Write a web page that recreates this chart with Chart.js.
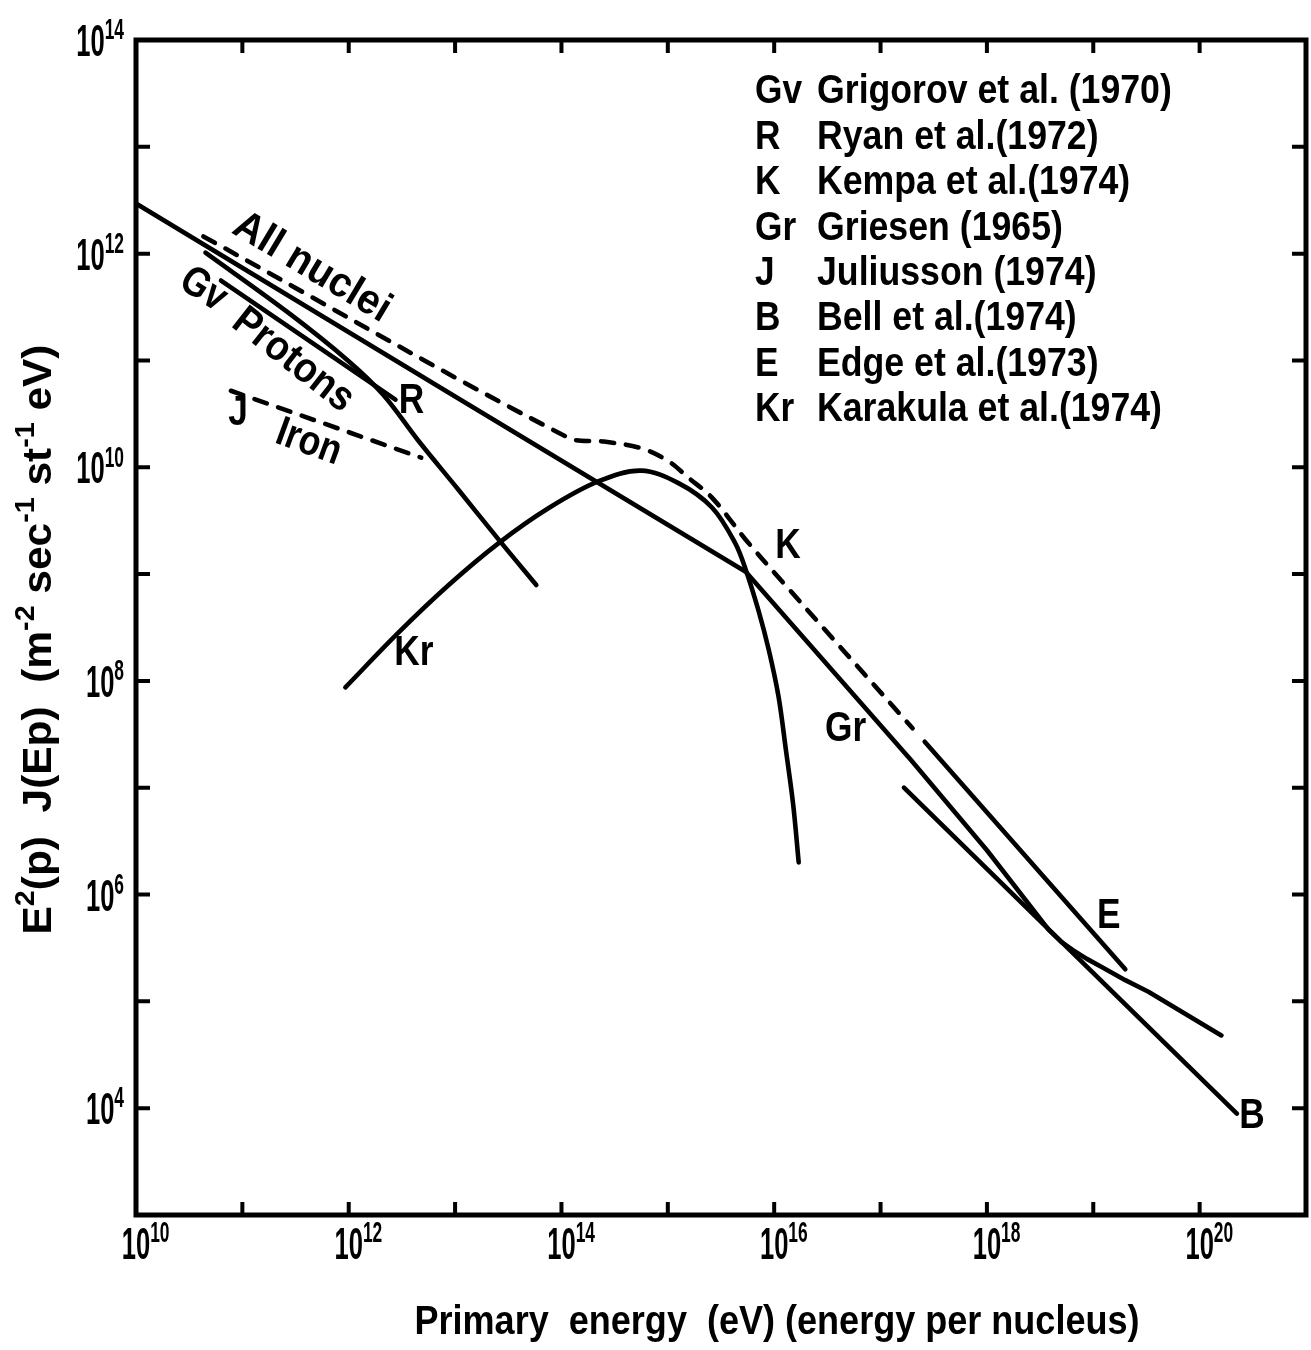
<!DOCTYPE html>
<html>
<head>
<meta charset="utf-8">
<title>Primary cosmic ray spectrum</title>
<script src="https://cdn.jsdelivr.net/npm/chart.js@4.4.1/dist/chart.umd.min.js"></script>
<style>
  html, body { margin: 0; padding: 0; background: #fff; }
  #wrap { width: 1311px; height: 1350px; position: relative; }
</style>
</head>
<body>
<div id="wrap"><canvas id="spectrum"></canvas></div>
<script>
// energy in eV, flux as E^2 J(E) in m^-2 sec^-1 st^-1 eV
const griesenE    = [1e10, 1e13, 5.4e15, 1.95e17, 1e18, 3.8e18, 5.0e18, 6.5e18, 8.7e18, 1.2e19, 2.0e19, 3.3e19, 1.6e20];
const griesenFlux = [2.95e12, 4.6e10, 1.05e9, 1.8e7, 2.6e6, 4.7e5, 3.6e5, 3.0e5, 2.5e5, 2.1e5, 1.58e5, 1.23e5, 4.8e4];

const bellE    = [1.66e17, 2.24e20];
const bellFlux = [1.0e7, 8.9e3];

const edgeE    = [2.6e17, 2.0e19];
const edgeFlux = [2.7e7, 2.0e5];

const allNucleiE    = [4.3e10, 1.15e14, 2.5e14, 5.6e14, 1.0e15, 1.58e15, 2.6e15, 5.4e15, 1.1e16, 2.0e17];
const allNucleiFlux = [1.45e12, 1.9e10, 1.74e10, 1.51e10, 1.15e10, 7.9e9, 5.2e9, 2.1e9, 9.3e8, 3.6e7];

const protonsE    = [4.5e10, 2.7e11, 9.8e11, 2.1e12, 4.5e12, 1.07e13, 2.57e13, 5.8e13];
const protonsFlux = [1.02e12, 2.8e11, 1.0e11, 4.8e10, 1.78e10, 6.2e9, 2.1e9, 7.9e8];

const ryanE    = [6.3e10, 2.75e12];
const ryanFlux = [5.6e11, 4.3e10];

const ironE    = [7.8e10, 4.8e12];
const ironFlux = [5.2e10, 1.23e10];

const karakulaE    = [9.3e11, 2.9e12, 8.7e12, 2.57e13, 7.6e13, 2.24e14, 5.6e14, 1.26e15, 2.6e15, 4.3e15, 5.4e15,
                      7.1e15, 8.9e15, 1.1e16, 1.29e16, 1.51e16, 1.7e16];
const karakulaFlux = [8.7e7, 2.8e8, 7.9e8, 1.95e9, 4.15e9, 7.4e9, 9.3e9, 7.1e9, 4.2e9, 1.95e9, 1.1e9,
                      4.6e8, 1.95e8, 7.1e7, 2.24e7, 6.9e6, 2.0e6];

// decades carrying a tick mark, and the ones that get a label
const xDecades = [11, 12, 13, 14, 15, 16, 17, 18, 19, 20];
const yDecades = [4, 5, 6, 7, 8, 9, 10, 11, 12, 13];
const xLabelExps = [10, 12, 14, 16, 18, 20];
const yLabelExps = [4, 6, 8, 10, 12, 14];

// key in the upper right corner
const keyCodes = ['Gv', 'R', 'K', 'Gr', 'J', 'B', 'E', 'Kr'];
const keyNames = ['Grigorov et al. (1970)', 'Ryan et al.(1972)', 'Kempa et al.(1974)', 'Griesen (1965)',
                  'Juliusson (1974)', 'Bell et al.(1974)', 'Edge et al.(1973)', 'Karakula et al.(1974)'];

// curve labels, anchored in data coordinates
const curveNotes = [
  { text: 'All nuclei', e: 4.5e11, f: 7.4e11, rot: 31, fit: 176 },
  { text: 'Gv',         e: 4.3e10, f: 4.6e11, rot: 33 },
  { text: 'Protons',    e: 3.0e11, f: 1.0e11, rot: 38, fit: 142 },
  { text: 'R',          e: 3.9e12, f: 4.1e10, rot: 0 },
  { text: 'J',          e: 9.1e10, f: 3.2e10, rot: 0 },
  { text: 'Iron',       e: 4.2e11, f: 1.7e10, rot: 20 },
  { text: 'Kr',         e: 4.1e12, f: 1.8e8,  rot: 0 },
  { text: 'K',          e: 1.35e16, f: 1.8e9, rot: 0 },
  { text: 'Gr',         e: 4.7e16, f: 3.5e7,  rot: 0 },
  { text: 'E',          e: 1.4e19, f: 6.3e5,  rot: 0 },
  { text: 'B',          e: 3.1e20, f: 8.3e3,  rot: 0 }
];

const FONT = '"Liberation Sans", Arial, sans-serif';
const INK = '#000';

function pts(es, fs) {
  return es.map((e, i) => ({ x: e, y: fs[i] }));
}

function curve(es, fs, dashed, smooth) {
  return {
    data: pts(es, fs),
    borderColor: INK,
    borderWidth: 4.6,
    borderDash: dashed ? [13, 12] : [],
    borderCapStyle: 'round',
    borderJoinStyle: 'round',
    pointRadius: 0,
    fill: false,
    tension: smooth ? 0.35 : 0
  };
}

function setFont(ctx, size) {
  ctx.font = 'bold ' + size + 'px ' + FONT;
}

// parts: plain strings are normal text, one-element arrays are superscripts
function layoutRich(ctx, parts, st) {
  let w = 0;
  const items = parts.map(p => {
    const sup = Array.isArray(p);
    const txt = sup ? p[0] : p;
    setFont(ctx, sup ? st.sup : st.size);
    const wd = ctx.measureText(txt).width;
    const it = { txt: txt, sup: sup, x: w };
    w += wd;
    return it;
  });
  return { items: items, w: w };
}

function drawRich(ctx, parts, x, y, st) {
  const lay = layoutRich(ctx, parts, st);
  const sx = st.fit ? st.fit / lay.w : (st.sx || 1);
  ctx.save();
  ctx.translate(x, y);
  if (st.rot) ctx.rotate(st.rot * Math.PI / 180);
  ctx.scale(sx, 1);
  const x0 = st.align === 'left' ? 0 : st.align === 'right' ? -lay.w : -lay.w / 2;
  ctx.textAlign = 'left';
  ctx.textBaseline = 'middle';
  ctx.fillStyle = INK;
  lay.items.forEach(it => {
    setFont(ctx, it.sup ? st.sup : st.size);
    ctx.fillText(it.txt, x0 + it.x, it.sup ? -st.rise : 0);
  });
  ctx.restore();
  return lay.w * sx;
}

const tickStyle = { size: 44, sup: 30, rise: 13, sx: 0.58 };

const paperFrame = {
  id: 'paperFrame',
  afterDraw(chart) {
    const ctx = chart.ctx;
    const a = chart.chartArea;
    const xs = chart.scales.x;
    const ys = chart.scales.y;

    // inward tick marks on all four sides
    ctx.save();
    ctx.strokeStyle = INK;
    ctx.lineWidth = 4;
    ctx.lineCap = 'butt';
    ctx.beginPath();
    xDecades.forEach(d => {
      const px = xs.getPixelForValue(Math.pow(10, d));
      ctx.moveTo(px, a.bottom); ctx.lineTo(px, a.bottom - 13);
      ctx.moveTo(px, a.top);    ctx.lineTo(px, a.top + 13);
    });
    yDecades.forEach(d => {
      const py = ys.getPixelForValue(Math.pow(10, d));
      ctx.moveTo(a.left, py);  ctx.lineTo(a.left + 14, py);
      ctx.moveTo(a.right, py); ctx.lineTo(a.right - 14, py);
    });
    ctx.stroke();

    // frame
    ctx.lineWidth = 5;
    ctx.lineJoin = 'miter';
    ctx.strokeRect(a.left, a.top, a.right - a.left, a.bottom - a.top);
    ctx.restore();

    // tick labels 10^n
    setFont(ctx, tickStyle.size);
    const baseW = ctx.measureText('10').width * tickStyle.sx;
    xLabelExps.forEach(d => {
      const px = xs.getPixelForValue(Math.pow(10, d));
      drawRich(ctx, ['10', [String(d)]], px - baseW / 2, a.bottom + 32, Object.assign({ align: 'left' }, tickStyle));
    });
    yLabelExps.forEach(d => {
      const py = ys.getPixelForValue(Math.pow(10, d));
      drawRich(ctx, ['10', [String(d)]], a.left - 12, py + 4, Object.assign({ align: 'right' }, tickStyle));
    });

    // axis titles
    drawRich(ctx, ['Primary  energy  (eV) (energy per nucleus)'],
      a.left + 641, a.bottom + 108, { size: 40, sup: 26, rise: 12, fit: 725 });
    drawRich(ctx, ['E', ['2'], '(p)  J(Ep)  (m', ['-2'], ' sec', ['-1'], ' st', ['-1'], ' eV)'],
      40, (a.top + a.bottom) / 2 + 12, { size: 40, sup: 27, rise: 13, fit: 590, rot: -90 });

    // curve labels
    curveNotes.forEach(n => {
      drawRich(ctx, [n.text], xs.getPixelForValue(n.e), ys.getPixelForValue(n.f),
        { size: 42, sup: 28, rise: 12, sx: 0.84, fit: n.fit, rot: n.rot });
    });

    // key
    keyCodes.forEach((c, i) => {
      const y = a.top + 52 + i * 45.4;
      drawRich(ctx, [c], a.left + 619, y, { size: 41, sup: 26, rise: 12, sx: 0.86, align: 'left' });
      drawRich(ctx, [keyNames[i]], a.left + 681, y, { size: 41, sup: 26, rise: 12, sx: 0.87, align: 'left' });
    });
  }
};

new Chart(document.getElementById('spectrum'), {
  type: 'line',
  data: {
    datasets: [
      curve(griesenE, griesenFlux, false, false),
      curve(bellE, bellFlux, false, false),
      curve(edgeE, edgeFlux, false, false),
      curve(allNucleiE, allNucleiFlux, true, true),
      curve(protonsE, protonsFlux, false, true),
      curve(ryanE, ryanFlux, false, false),
      curve(ironE, ironFlux, true, false),
      curve(karakulaE, karakulaFlux, false, true)
    ]
  },
  options: {
    responsive: true,
    maintainAspectRatio: false,
    animation: false,
    layout: { padding: { left: 136, top: 40, right: 5, bottom: 135 } },
    plugins: {
      legend: { display: false },
      tooltip: { enabled: false }
    },
    scales: {
      x: {
        type: 'logarithmic',
        min: 1e10,
        max: 1e21,
        ticks: { display: false },
        grid: { display: false, drawTicks: false },
        border: { display: false }
      },
      y: {
        type: 'logarithmic',
        min: 1e3,
        max: 1e14,
        ticks: { display: false },
        grid: { display: false, drawTicks: false },
        border: { display: false }
      }
    }
  },
  plugins: [paperFrame]
});
</script>
</body>
</html>
